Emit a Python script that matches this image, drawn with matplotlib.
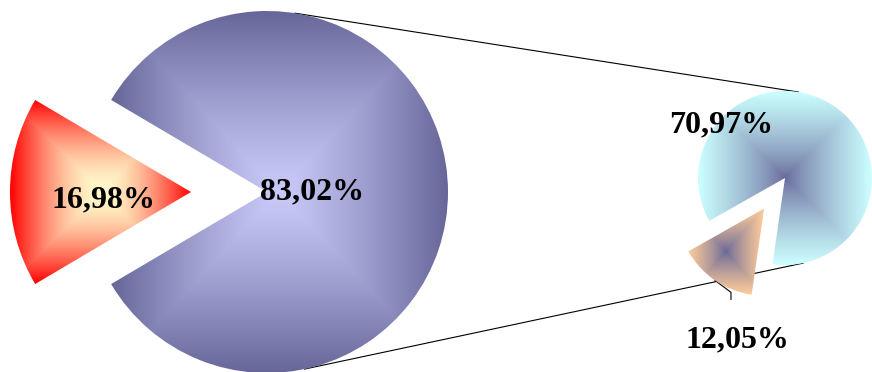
import numpy as np
import matplotlib
matplotlib.use("Agg")
import matplotlib.pyplot as plt
from matplotlib.patches import Wedge
from matplotlib.colors import to_rgb

# Shares of the main pie and the breakdown of its large slice
main_values = [16.98, 83.02]
sub_values = [70.97, 12.05]

# (centre colour, edge colour, gradient curve exponent)
main_colors = [("#FFFBCC", "#FF0000", 1.6), ("#CACAF9", "#666699", 1.2)]
sub_colors = [("#666699", "#CCFFFF", 0.75), ("#666699", "#FFCC99", 0.8)]


def fmt(v):
    return f"{v:.2f}".replace(".", ",") + "%"


W, H = 872, 372
fig = plt.figure(figsize=(W / 100, H / 100), dpi=100)
ax = fig.add_axes([0, 0, 1, 1])
ax.set_xlim(0, W)
ax.set_ylim(0, H)
ax.set_aspect("equal")
ax.axis("off")

FONT = dict(family="Liberation Serif", weight="bold", size=23, color="black")


def rect_gradient(ax, patch, c_center, c_edge, gamma, zorder):
    """Fill a patch with a rectangular centre-out gradient over its bounding box."""
    ax.add_patch(patch)
    ext = patch.get_path().get_extents()
    x0, y0, x1, y1 = ext.x0, ext.y0, ext.x1, ext.y1
    nx = max(int(x1 - x0) * 2, 4)
    ny = max(int(y1 - y0) * 2, 4)
    xs = np.linspace(-1, 1, nx)
    ys = np.linspace(-1, 1, ny)
    X, Y = np.meshgrid(xs, ys)
    t = np.clip(np.maximum(np.abs(X), np.abs(Y)), 0, 1) ** gamma
    t = t[..., None]
    a = np.array(to_rgb(c_center))
    b = np.array(to_rgb(c_edge))
    img = a + (b - a) * t
    im = ax.imshow(img, extent=(x0, x1, y0, y1), origin="lower",
                   interpolation="bilinear", zorder=zorder, aspect="auto")
    im.set_clip_path(patch)


# ---- main pie -------------------------------------------------------------
c1 = np.array([267.0, 180.0])
r1 = 181.0
explode1 = 76.0

small_span = main_values[0] / sum(main_values) * 360.0
red_t1, red_t2 = 180 - small_span / 2, 180 + small_span / 2
mid = np.deg2rad(180.0)
red_center = c1 + explode1 * np.array([np.cos(mid), np.sin(mid)])

red = Wedge(red_center, r1, red_t1, red_t2, fc="none", ec="none", zorder=3)
rect_gradient(ax, red, *main_colors[0], zorder=3)
big = Wedge(c1, r1, red_t2, red_t1 + 360, fc="none", ec="none", zorder=3)
rect_gradient(ax, big, *main_colors[1], zorder=3)

ax.text(red_center[0] - 88, red_center[1] - 8, fmt(main_values[0]),
        ha="center", va="center", zorder=5, **FONT)
ax.text(c1[0] + 45, c1[1], fmt(main_values[1]),
        ha="center", va="center", zorder=5, **FONT)

# ---- secondary pie --------------------------------------------------------
c2 = np.array([785.0, 194.0])
r2 = 87.0
explode2 = 37.0
sub_total = sum(sub_values)
small2 = sub_values[1] / sub_total * 360.0
o_t1 = 209.5
o_t2 = o_t1 + small2
omid = np.deg2rad((o_t1 + o_t2) / 2)
o_center = c2 + explode2 * np.array([np.cos(omid), np.sin(omid)])

cyan = Wedge(c2, r2, o_t2, o_t1 + 360, fc="none", ec="none", zorder=3)
rect_gradient(ax, cyan, *sub_colors[0], zorder=3)
orange = Wedge(o_center, r2, o_t1, o_t2, fc="none", ec="none", zorder=3)
rect_gradient(ax, orange, *sub_colors[1], zorder=3)

ax.text(c2[0] - 64, c2[1] + 53, fmt(sub_values[0]),
        ha="center", va="center", zorder=5, **FONT)
ax.text(c2[0] - 48, c2[1] - 162, fmt(sub_values[1]),
        ha="center", va="center", zorder=5, **FONT)

# leader line from the small slice to its label
arc_pt = o_center + r2 * np.array([np.cos(omid), np.sin(omid)])
elbow = arc_pt + np.array([16, -12])
ax.plot([arc_pt[0], elbow[0], elbow[0]], [arc_pt[1], elbow[1], elbow[1] - 7],
        color="black", lw=0.8, zorder=2)

# ---- connector lines (outer tangents between the two pies) -----------------
d = c2 - c1
D = np.hypot(*d)
u = d / D
perp = np.array([-u[1], u[0]])
k = (r1 - r2) / D
s = np.sqrt(1 - k * k)
for sign in (1, -1):
    n = k * u + sign * s * perp
    p1 = c1 + r1 * n
    p2 = c2 + r2 * n
    ax.plot([p1[0], p2[0]], [p1[1], p2[1]], color="black", lw=0.8, zorder=1)

fig.savefig("out.png", dpi=100)
